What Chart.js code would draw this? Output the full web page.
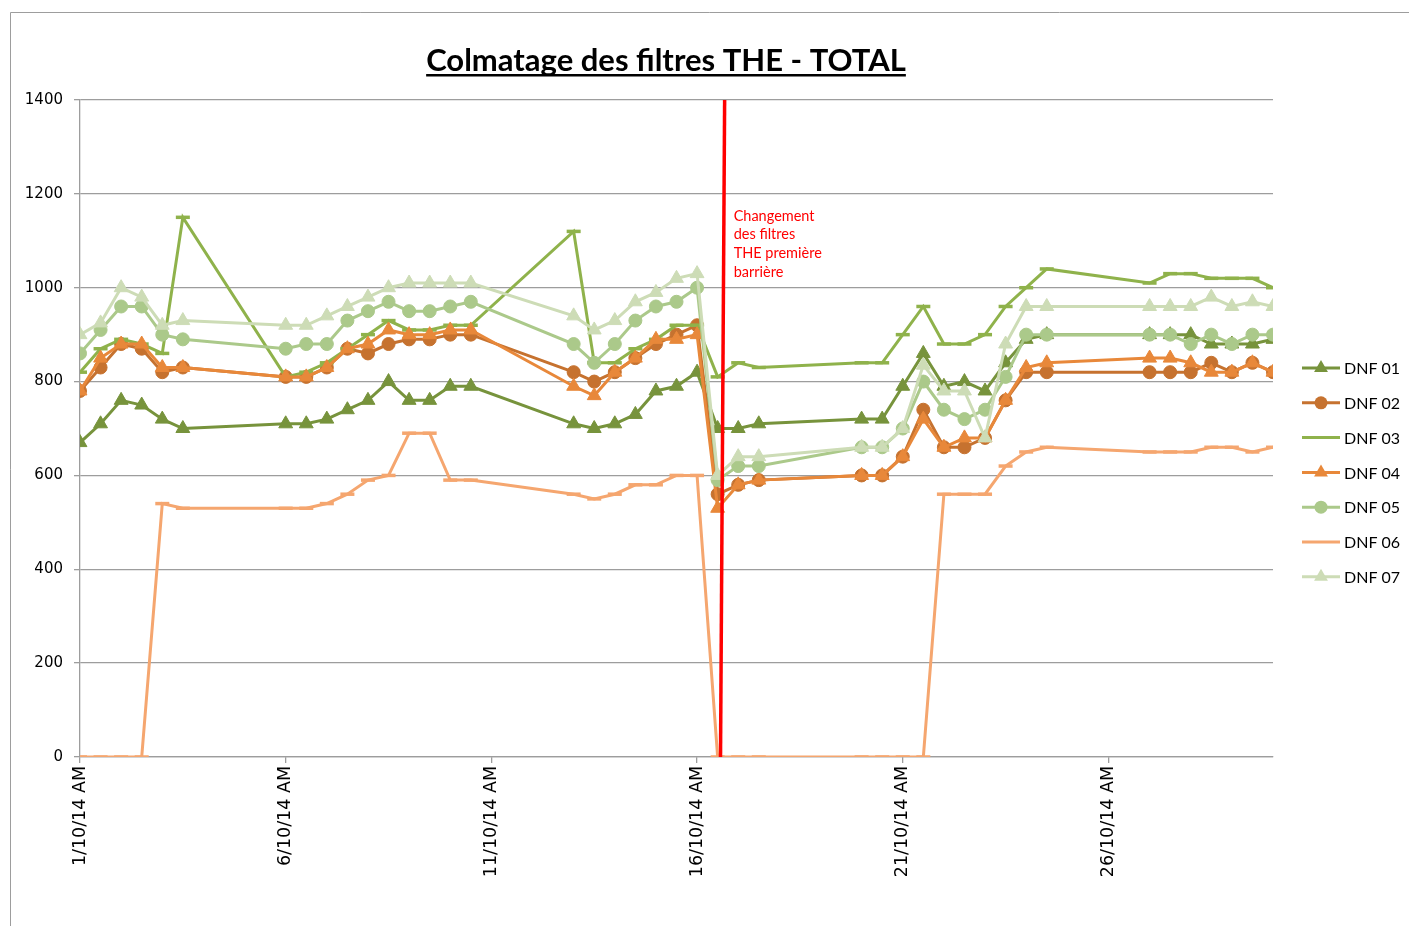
<!DOCTYPE html>
<html lang="fr">
<head>
<meta charset="utf-8">
<title>Colmatage des filtres THE - TOTAL</title>
<script src="https://cdn.jsdelivr.net/npm/chart.js@4.4.1/dist/chart.umd.min.js"></script>
<style>
  html, body { margin: 0; padding: 0; background: #fff; }
  #wrap { width: 1409px; height: 926px; }
</style>
</head>
<body>
<div id="wrap"><canvas id="colmatageChart" width="1409" height="926"></canvas></div>
<script>
// jours écoulés depuis le 1/10/14 00:00 (relevés matin / soir)
const jours = [
  0, 0.5, 1, 1.5, 2, 2.5,
  5, 5.5, 6, 6.5, 7, 7.5, 8, 8.5, 9, 9.5,
  12, 12.5, 13, 13.5, 14, 14.5, 15, 15.5, 16, 16.5,
  19, 19.5, 20, 20.5, 21, 21.5, 22, 22.5, 23, 23.5,
  26, 26.5, 27, 27.5, 28, 28.5, 29,
];

const dnf01 = [
  670, 710, 760, 750, 720, 700,
  710, 710, 720, 740, 760, 800, 760, 760, 790, 790,
  710, 700, 710, 730, 780, 790, 820, 700, 700, 710,
  720, 720, 790, 860, 790, 800, 780, 840, 890, 900,
  900, 900, 900, 880, 880, 880, 890,
];
const dnf02 = [
  780, 830, 880, 870, 820, 830,
  810, 810, 830, 870, 860, 880, 890, 890, 900, 900,
  820, 800, 820, 850, 880, 900, 920, 560, 580, 590,
  600, 600, 640, 740, 660, 660, 680, 760, 820, 820,
  820, 820, 820, 840, 820, 840, 820,
];
const dnf03 = [
  820, 870, 890, 880, 860, 1150,
  810, 820, 840, 870, 900, 930, 910, 910, 920, 920,
  1120, 840, 840, 870, 890, 920, 920, 810, 840, 830,
  840, 840, 900, 960, 880, 880, 900, 960, 1000, 1040,
  1010, 1030, 1030, 1020, 1020, 1020, 1000,
];
const dnf04 = [
  780, 850, 880, 880, 830, 830,
  810, 810, 830, 870, 880, 910, 900, 900, 910, 910,
  790, 770, 820, 850, 890, 890, 900, 530, 580, 590,
  600, 600, 640, 720, 660, 680, 680, 760, 830, 840,
  850, 850, 840, 820, 820, 840, 820,
];
const dnf05 = [
  860, 910, 960, 960, 900, 890,
  870, 880, 880, 930, 950, 970, 950, 950, 960, 970,
  880, 840, 880, 930, 960, 970, 1000, 590, 620, 620,
  660, 660, 700, 800, 740, 720, 740, 810, 900, 900,
  900, 900, 880, 900, 880, 900, 900,
];
const dnf06 = [
  0, 0, 0, 0, 540, 530,
  530, 530, 540, 560, 590, 600, 690, 690, 590, 590,
  560, 550, 560, 580, 580, 600, 600, 0, 0, 0,
  0, 0, 0, 0, 560, 560, 560, 620, 650, 660,
  650, 650, 650, 660, 660, 650, 660,
];
const dnf07 = [
  900, 925, 1000, 980, 920, 930,
  920, 920, 940, 960, 980, 1000, 1010, 1010, 1010, 1010,
  940, 910, 930, 970, 990, 1020, 1030, 600, 640, 640,
  660, 660, 700, 835, 780, 780, 680, 880, 960, 960,
  960, 960, 960, 980, 960, 970, 960,
];

const graduationsX = [0, 5, 10, 15, 20, 25];
const etiquettesX = ['1/10/14 AM', '6/10/14 AM', '11/10/14 AM', '16/10/14 AM', '21/10/14 AM', '26/10/14 AM'];

// trait vertical du changement de filtres (bas, haut)
const changementX = [15.57, 15.67];
const changementY = [0, 1400];
const noteChangement = ['Changement', 'des filtres', 'THE première', 'barrière'];

const series = [
  { label: 'DNF 01', valeurs: dnf01, couleur: '#77933c', marque: 'triangle' },
  { label: 'DNF 02', valeurs: dnf02, couleur: '#c6722f', marque: 'circle' },
  { label: 'DNF 03', valeurs: dnf03, couleur: '#8fb24b', marque: 'line' },
  { label: 'DNF 04', valeurs: dnf04, couleur: '#e8883a', marque: 'triangle' },
  { label: 'DNF 05', valeurs: dnf05, couleur: '#abc98a', marque: 'circle' },
  { label: 'DNF 06', valeurs: dnf06, couleur: '#f5a66f', marque: 'line' },
  { label: 'DNF 07', valeurs: dnf07, couleur: '#cddcb6', marque: 'triangle' },
];

const TAILLE_MARQUE = { triangle: 8, circle: 6.5, line: 7 };
const GRIS = '#9d9d9d';

function dessinerMarque(ctx, marque, x, y, r, couleur) {
  ctx.fillStyle = couleur;
  ctx.strokeStyle = couleur;
  ctx.beginPath();
  if (marque === 'triangle') {
    let a = 0;
    ctx.moveTo(x + Math.sin(a) * r, y - Math.cos(a) * r);
    a += (2 * Math.PI) / 3;
    ctx.lineTo(x + Math.sin(a) * r, y - Math.cos(a) * r);
    a += (2 * Math.PI) / 3;
    ctx.lineTo(x + Math.sin(a) * r, y - Math.cos(a) * r);
    ctx.closePath();
    ctx.fill();
  } else if (marque === 'circle') {
    ctx.arc(x, y, r, 0, Math.PI * 2);
    ctx.fill();
  }
}

const habillage = {
  id: 'habillage',
  beforeDraw(chart) {
    const { ctx, width, height } = chart;
    ctx.save();
    ctx.fillStyle = '#fff';
    ctx.fillRect(0, 0, width, height);
    // cadre de la zone graphique
    ctx.strokeStyle = GRIS;
    ctx.lineWidth = 1;
    ctx.beginPath();
    ctx.moveTo(10.5, height);
    ctx.lineTo(10.5, 12.5);
    ctx.lineTo(width, 12.5);
    ctx.stroke();
    ctx.restore();
  },
  afterDraw(chart) {
    const { ctx, scales } = chart;
    ctx.save();

    // titre souligné
    const titre = 'Colmatage des filtres THE - TOTAL';
    ctx.font = 'bold 31px Lato';
    ctx.fillStyle = '#000';
    ctx.textAlign = 'center';
    ctx.textBaseline = 'alphabetic';
    ctx.fillText(titre, 666, 71);
    const w = ctx.measureText(titre).width;
    ctx.fillRect(666 - w / 2, 74, w, 2.5);

    // note du changement de filtres
    ctx.font = '14.5px Lato';
    ctx.fillStyle = '#ff0000';
    ctx.textAlign = 'left';
    ctx.textBaseline = 'middle';
    const xNote = scales.x.getPixelForValue(changementX[1]) + 9;
    noteChangement.forEach((ligne, i) => {
      ctx.fillText(ligne, xNote, 216 + i * 18.7);
    });

    // légende
    ctx.font = '16px Lato';
    series.forEach((s, i) => {
      const y = 368 + i * 34.8;
      ctx.strokeStyle = s.couleur;
      ctx.lineWidth = 3;
      ctx.beginPath();
      ctx.moveTo(1302, y);
      ctx.lineTo(1340, y);
      ctx.stroke();
      dessinerMarque(ctx, s.marque, 1321, y, TAILLE_MARQUE[s.marque], s.couleur);
      ctx.fillStyle = '#000';
      ctx.textAlign = 'left';
      ctx.fillText(s.label, 1344, y + 1);
    });
    ctx.restore();
  },
};

const datasets = series.map((s, i) => ({
  label: s.label,
  data: jours.map((j, k) => ({ x: j, y: s.valeurs[k] })),
  borderColor: s.couleur,
  backgroundColor: s.couleur,
  borderWidth: 3,
  tension: 0,
  pointStyle: s.marque,
  pointRadius: TAILLE_MARQUE[s.marque],
  pointBorderWidth: s.marque === 'line' ? 3.5 : 1,
  pointBackgroundColor: s.couleur,
  pointBorderColor: s.couleur,
  order: series.length - i,
}));

datasets.push({
  label: 'changement',
  data: changementX.map((x, k) => ({ x, y: changementY[k] })),
  borderColor: '#ff0000',
  borderWidth: 3.5,
  pointRadius: 0,
  order: 0,
});

new Chart(document.getElementById('colmatageChart'), {
  type: 'line',
  data: { datasets },
  plugins: [habillage],
  options: {
    responsive: false,
    animation: false,
    layout: { padding: { top: 100, right: 136, left: 0, bottom: 0 } },
    plugins: {
      legend: { display: false },
      title: { display: false },
      tooltip: { enabled: false },
    },
    scales: {
      x: {
        type: 'linear',
        min: 0,
        max: 29,
        afterFit: (scale) => { scale.height = 169; },
        afterBuildTicks: (scale) => {
          scale.ticks = graduationsX.map((v) => ({ value: v }));
        },
        ticks: {
          autoSkip: false,
          minRotation: 90,
          maxRotation: 90,
          padding: 3,
          color: '#000',
          font: { family: 'DejaVu Sans', size: 17.5 },
          callback: (v) => etiquettesX[graduationsX.indexOf(v)] || '',
        },
        grid: {
          drawOnChartArea: false,
          drawTicks: true,
          tickLength: 6,
          color: GRIS,
          lineWidth: 1.3,
        },
        border: { display: true, color: GRIS, width: 1.3 },
      },
      y: {
        min: 0,
        max: 1400,
        afterFit: (scale) => { scale.width = 80; },
        ticks: {
          stepSize: 200,
          padding: 11,
          color: '#000',
          font: { family: 'DejaVu Sans', size: 15 },
          callback: (v) => String(v),
        },
        grid: {
          color: GRIS,
          lineWidth: 1.3,
          tickLength: 6,
        },
        border: { display: true, color: GRIS, width: 1.3 },
      },
    },
  },
});
</script>
</body>
</html>
